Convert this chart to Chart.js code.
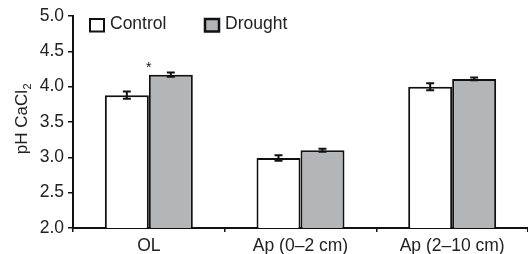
<!DOCTYPE html>
<html>
<head>
<meta charset="utf-8">
<script src="https://cdn.jsdelivr.net/npm/chart.js@4"></script>
<style>
  html, body { margin: 0; padding: 0; background: #fff; }
  #wrap { width: 528px; height: 254px; }
</style>
</head>
<body>
<div id="wrap"><canvas id="chart"></canvas></div>
<script>
// data
const categories = ['OL', 'Ap (0\u20132 cm)', 'Ap (2\u201310 cm)'];
const controlMeans = [3.88, 2.99, 4.00];
const controlErr = [0.05, 0.04, 0.05];
const droughtMeans = [4.17, 3.10, 4.11];
const droughtErr = [0.03, 0.02, 0.02];
const yTicks = [2.0, 2.5, 3.0, 3.5, 4.0, 4.5, 5.0];
const marks = ['*', '', ''];   // significance above drought bars

const FONT = 'Liberation Sans, Arial, sans-serif';

// error bars, asterisks, legend and y title
const extras = {
  id: 'extras',
  afterDatasetsDraw(chart) {
    const ctx = chart.ctx;
    const y = chart.scales.y;
    ctx.save();
    ctx.strokeStyle = '#111';
    ctx.lineWidth = 2;
    const errs = [controlErr, droughtErr];
    chart.data.datasets.forEach((ds, di) => {
      chart.getDatasetMeta(di).data.forEach((bar, i) => {
        const v = ds.data[i];
        const top = y.getPixelForValue(v + errs[di][i]);
        const bot = y.getPixelForValue(v - errs[di][i]);
        ctx.beginPath();
        ctx.moveTo(bar.x, top); ctx.lineTo(bar.x, bot);
        ctx.moveTo(bar.x - 4, top); ctx.lineTo(bar.x + 4, top);
        ctx.moveTo(bar.x - 4, bot); ctx.lineTo(bar.x + 4, bot);
        ctx.stroke();
        if (di === 1 && marks[i]) {
          ctx.fillStyle = '#111';
          ctx.font = '14px ' + FONT;
          ctx.textAlign = 'center';
          ctx.textBaseline = 'alphabetic';
          ctx.fillText(marks[i], bar.x - 22, top - 1);
        }
      });
    });

    // legend
    const items = [
      { label: chart.data.datasets[0].label, fill: '#ffffff', x: 90, lw: 2 },
      { label: chart.data.datasets[1].label, fill: '#b4b5b7', x: 205, lw: 2.5 }
    ];
    ctx.font = '17.5px ' + FONT;
    ctx.textAlign = 'left';
    ctx.textBaseline = 'middle';
    items.forEach(it => {
      ctx.fillStyle = it.fill;
      ctx.fillRect(it.x, 19, 14, 12.5);
      ctx.lineWidth = it.lw;
      ctx.strokeRect(it.x, 19, 14, 12.5);
      ctx.fillStyle = '#222';
      ctx.fillText(it.label, it.x + 20, 24);
    });

    // y title with subscript
    ctx.translate(22, 119);
    ctx.rotate(-Math.PI / 2);
    ctx.font = '17px ' + FONT;
    ctx.textBaseline = 'middle';
    const main = 'pH CaCl';
    const w = ctx.measureText(main).width;
    ctx.font = '11px ' + FONT;
    const w2 = ctx.measureText('2').width;
    const x0 = -(w + w2) / 2;
    ctx.font = '17px ' + FONT;
    ctx.fillText(main, x0, 0);
    ctx.font = '11px ' + FONT;
    ctx.fillText('2', x0 + w + 0.5, 6);
    ctx.restore();
  }
};

new Chart(document.getElementById('chart'), {
  type: 'bar',
  data: {
    labels: categories,
    datasets: [
      { label: 'Control', data: controlMeans, backgroundColor: '#ffffff',
        borderColor: '#111', borderWidth: 2, borderSkipped: 'bottom' },
      { label: 'Drought', data: droughtMeans, backgroundColor: '#b4b5b7',
        borderColor: '#111', borderWidth: 2, borderSkipped: 'bottom' }
    ]
  },
  options: {
    responsive: true,
    maintainAspectRatio: false,
    animation: false,
    layout: { padding: { top: 16, right: 0, left: 0, bottom: 0 } },
    datasets: { bar: { categoryPercentage: 0.58, barPercentage: 1.0 } },
    plugins: { legend: { display: false }, tooltip: { enabled: false } },
    scales: {
      x: {
        grid: { drawOnChartArea: false, offset: true, tickLength: 4, color: '#111', lineWidth: 1.5 },
        border: { color: '#111', width: 2 },
        ticks: { color: '#222', font: { family: FONT, size: 17.5 }, padding: 4, maxRotation: 0 },
        afterFit(s) { s.height = 26; }
      },
      y: {
        min: 2, max: 5,
        afterBuildTicks(s) { s.ticks = yTicks.map(v => ({ value: v })); },
        grid: { drawOnChartArea: false, tickLength: 5, color: '#111', lineWidth: 1.5 },
        border: { color: '#111', width: 2 },
        ticks: { color: '#222', font: { family: FONT, size: 17.5 }, padding: 4,
                 callback: v => Number(v).toFixed(1) },
        afterFit(s) { s.width = 73; }
      }
    }
  },
  plugins: [extras]
});
</script>
</body>
</html>
